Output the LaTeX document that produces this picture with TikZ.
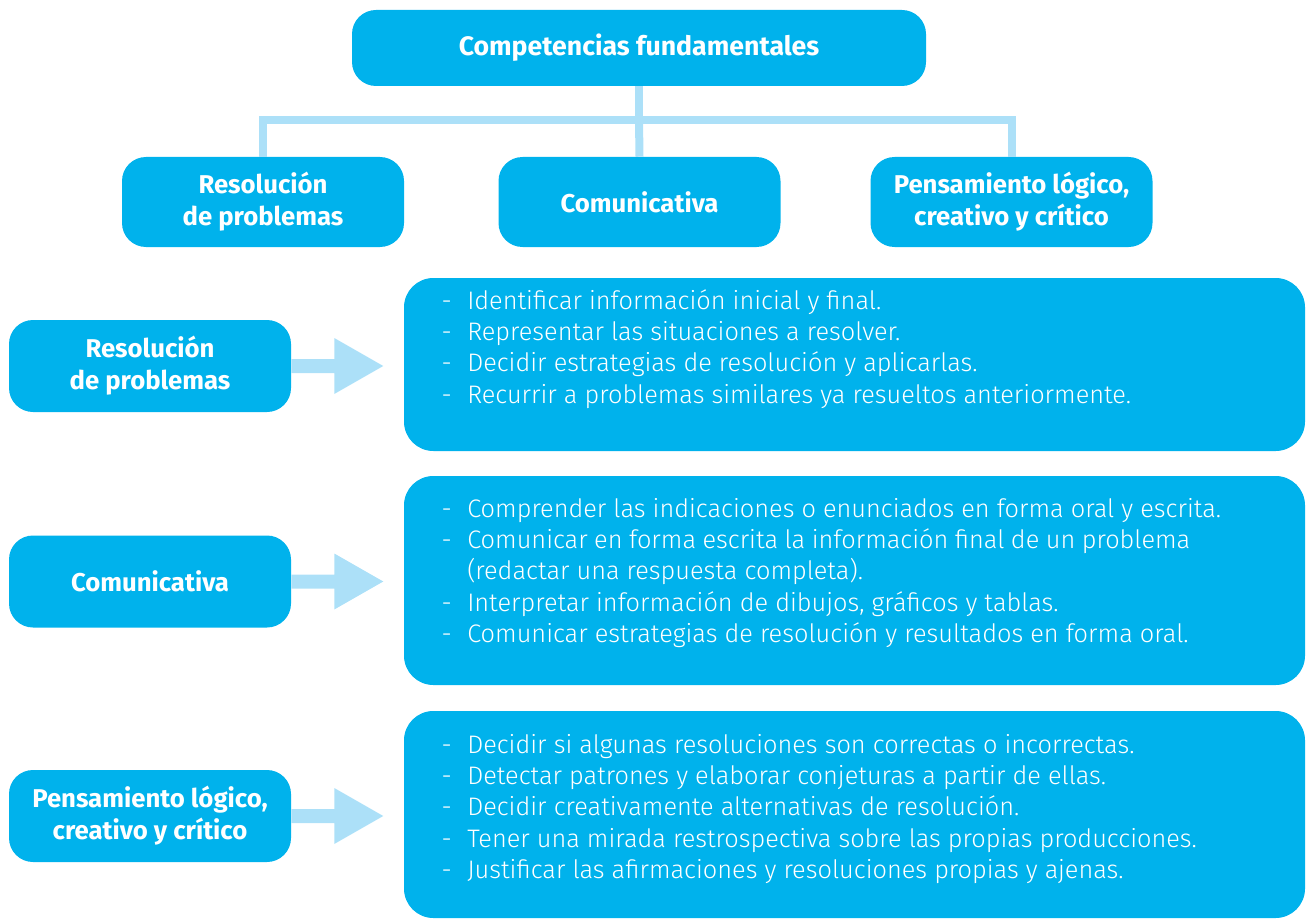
\documentclass[tikz,border=0pt]{standalone}
\usepackage{fontspec}
\setmainfont{Fira Sans}[BoldFont={Fira Sans Bold}]
\newfontfamily\lightf{Fira Sans Light}
\usetikzlibrary{calc}
\definecolor{cblue}{RGB}{0,178,236}
\definecolor{lblue}{RGB}{172,224,248}
\newcommand{\itm}[1]{\hangindent=29.25pt\hangafter=1\noindent\makebox[29.25pt][l]{\hspace{10pt}-}#1\par}
\newenvironment{lst}{\begin{minipage}[t]{660pt}\lightf\fontsize{19}{23.55}\selectfont}{\end{minipage}}
\begin{document}
\begin{tikzpicture}[x=0.75pt,y=-0.75pt,
  blk/.style={fill=cblue,rounded corners=18pt,text=white,align=center,inner sep=0pt,
    font=\bfseries\fontsize{19.3}{24}\selectfont},
  big/.style={fill=cblue,rounded corners=22pt,inner sep=0pt,minimum width=675.75pt},
  conn/.style={draw=lblue,line width=6pt},
  txt/.style={anchor=base west,inner sep=0pt,text=white}]
\useasboundingbox (0,0) rectangle (1306,920);
% top tree
\node[blk,minimum width=430.5pt,minimum height=57pt,font=\bfseries\fontsize{20}{24}\selectfont] (top) at (639,48) {Competencias fundamentales};
\node[blk,minimum width=211.5pt,minimum height=67.5pt] (ta) at (263,202) {Resolución\\de problemas};
\node[blk,minimum width=211.5pt,minimum height=67.5pt] (tb) at (639.5,202) {Comunicativa};
\node[blk,minimum width=211.5pt,minimum height=67.5pt] (tc) at (1011.5,202) {Pensamiento lógico,\\creativo y crítico};
\coordinate (hub) at (639,120);
\draw[conn] (top.south) -- (hub);
\draw[conn] (ta.north) |- (hub) -| (tc.north);
\draw[conn] (hub) -- (tb.north);
% left boxes
\node[blk,minimum width=211.5pt,minimum height=69pt] (la) at (150,366) {Resolución\\de problemas};
\node[blk,minimum width=211.5pt,minimum height=69pt] (lb) at (150,581.5) {Comunicativa};
\node[blk,minimum width=211.5pt,minimum height=69pt] (lc) at (150,816) {Pensamiento lógico,\\creativo y crítico};
% right boxes
\node[big,minimum height=129.75pt] (ra) at (854.5,364.5) {};
\node[big,minimum height=156.75pt] (rb) at (854.5,580.5) {};
\node[big,minimum height=155.25pt] (rc) at (854.5,814.5) {};
% arrows
\foreach \s/\t in {la/ra,lb/rb,lc/rc}{
  \fill[lblue] ($(\s.east)+(0,-7)$) -- ++(43,0) -- ++(0,-21) -- ++(49,28) -- ++(-49,28) -- ++(0,-21) -- ++(-43,0) -- cycle;
}
% texts
\node[txt] (ta1) at (428,309) {\begin{lst}
\itm{Identificar información inicial y final.}
\itm{Representar las situaciones a resolver.}
\itm{Decidir estrategias de resolución y aplicarlas.}
\itm{Recurrir a problemas similares ya resueltos anteriormente.}
\end{lst}};
\node[txt] (tb1) at (428,517) {\begin{lst}
\itm{Comprender las indicaciones o enunciados en forma oral y escrita.}
\itm{\makebox[542.25pt][s]{Comunicar en forma escrita la información final de un problema}\newline (redactar una respuesta completa).}
\itm{Interpretar información de dibujos, gráficos y tablas.}
\itm{Comunicar estrategias de resolución y resultados en forma oral.}
\end{lst}};
\node[txt] (tc1) at (428,753) {\begin{lst}
\itm{Decidir si algunas resoluciones son correctas o incorrectas.}
\itm{Detectar patrones y elaborar conjeturas a partir de ellas.}
\itm{Decidir creativamente alternativas de resolución.}
\itm{Tener una mirada restrospectiva sobre las propias producciones.}
\itm{Justificar las afirmaciones y resoluciones propias y ajenas.}
\end{lst}};
\end{tikzpicture}
\end{document}
